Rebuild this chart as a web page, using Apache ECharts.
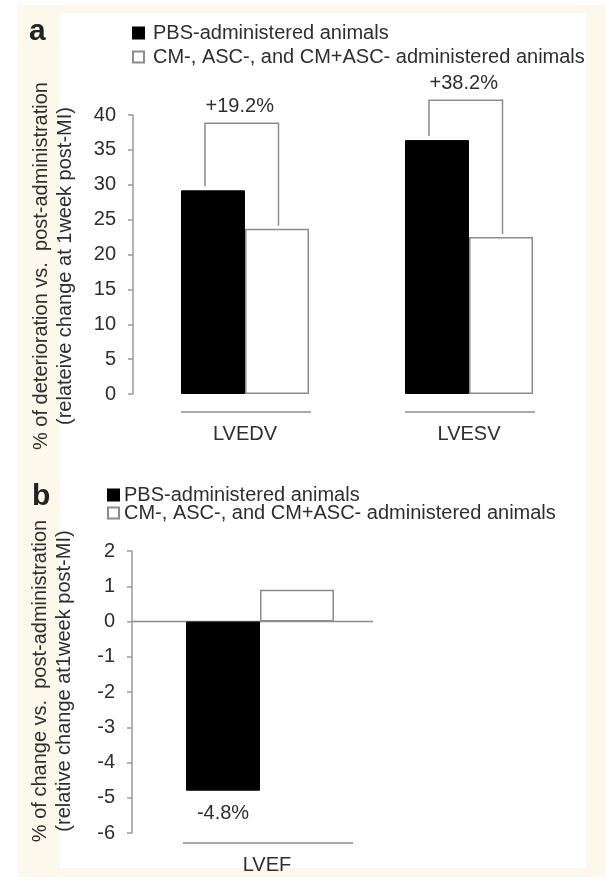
<!DOCTYPE html>
<html><head><meta charset="utf-8">
<script src="https://cdn.jsdelivr.net/npm/echarts@6/dist/echarts.min.js"></script>
<style>html,body{margin:0;padding:0;background:#fff}#c{width:606px;height:883px}</style>
</head><body><div id="c"></div>
<script>
// ---- data ----
const seriesNames = ['PBS-administered animals', 'CM-, ASC-, and CM+ASC- administered animals'];
const categoriesA = ['LVEDV', 'LVESV'];
const pbsA = [29.2, 36.4];
const treatedA = [23.7, 22.5];
const bracketTopA = [38.8, 42.1];
const diffLabelsA = ['+19.2%', '+38.2%'];
const yMinA = 0, yMaxA = 40, yStepA = 5;

const categoriesB = ['LVEF'];
const pbsB = [-4.8];
const treatedB = [0.9];
const valueLabelsB = ['-4.8%'];
const yMinB = -6, yMaxB = 2, yStepB = 1;

const titleA = '% of deterioration vs.  post-administration\n(relateive change at 1week post-MI)';
const titleB = '% of change vs.  post-administration\n(relative change at1week post-MI)';

// ---- styles ----
const FONT = '"Liberation Sans", Arial, sans-serif';
const TXT = '#2e2e2e';
const GRAY = '#9a9a9a';
const BAR_W_A = 64, BAR_W_B = 74;

const chart = echarts.init(document.getElementById('c'), null, {renderer: 'canvas'});

const yAxisCommon = {
  type: 'value',
  axisLine: {show: true, lineStyle: {color: GRAY, width: 1.5}},
  axisTick: {show: true, inside: false, length: 5, lineStyle: {color: GRAY, width: 1.5}},
  splitLine: {show: false},
  axisLabel: {fontSize: 20, color: TXT, fontFamily: FONT, margin: 17},
  nameLocation: 'middle',
  nameRotate: 90,
  nameGap: 56
};

const option = {
  backgroundColor: '#fff',
  animation: false,
  textStyle: {fontFamily: FONT},
  graphic: [
    {type: 'rect', z: -10, silent: true, shape: {x: 18, y: 5, width: 588, height: 872}, style: {fill: '#fdf8ec'}},
    {type: 'rect', z: -9, silent: true, shape: {x: 60, y: 13, width: 526, height: 855}, style: {fill: '#ffffff'}},
    {type: 'text', z: 10, style: {text: 'a', x: 29, y: 32, verticalAlign: 'middle', font: 'bold 30px ' + FONT, fill: '#222'}},
    {type: 'text', z: 10, style: {text: 'b', x: 32, y: 497, verticalAlign: 'middle', font: 'bold 30px ' + FONT, fill: '#222'}}
  ],
  legend: [
    {
      data: seriesNames, orient: 'vertical', left: 132, top: 23, icon: 'rect', padding: 0,
      itemWidth: 11, itemHeight: 11, itemGap: 4,
      textStyle: {fontSize: 20, color: TXT, fontFamily: FONT, padding: [0, 0, 0, 4]},
      selectedMode: false
    },
    {
      data: seriesNames, orient: 'vertical', left: 107, top: 485, icon: 'rect', padding: 0,
      itemWidth: 11, itemHeight: 11, itemGap: -2,
      textStyle: {fontSize: 20, color: TXT, fontFamily: FONT},
      selectedMode: false
    }
  ],
  grid: [
    {left: 133, top: 115, width: 448, height: 279},
    {left: 132, top: 551, width: 256, height: 282}
  ],
  xAxis: [
    {
      type: 'category', gridIndex: 0, data: categoriesA,
      axisLine: {show: false}, axisTick: {show: false},
      axisLabel: {fontSize: 20, color: TXT, fontFamily: FONT, margin: 30}
    },
    {
      type: 'category', gridIndex: 1, data: categoriesB,
      axisLine: {show: false, onZero: false}, axisTick: {show: false},
      axisLabel: {fontSize: 20, color: TXT, fontFamily: FONT, margin: 22, padding: [0, 0, 0, 14]}
    }
  ],
  yAxis: [
    Object.assign({}, yAxisCommon, {
      gridIndex: 0, min: yMinA, max: yMaxA, interval: yStepA,
      name: titleA,
      nameTextStyle: {fontSize: 20, color: TXT, fontFamily: FONT, lineHeight: 24, padding: [0, 23, 0, 0]}
    }),
    Object.assign({}, yAxisCommon, {
      gridIndex: 1, min: yMinB, max: yMaxB, interval: yStepB,
      name: titleB,
      nameTextStyle: {fontSize: 20, color: TXT, fontFamily: FONT, lineHeight: 24, padding: [0, 0, 0, 22]}
    })
  ],
  series: [
    {
      name: seriesNames[0], type: 'bar', xAxisIndex: 0, yAxisIndex: 0,
      data: pbsA, barWidth: BAR_W_A, barGap: '0%',
      itemStyle: {color: '#000', borderColor: '#000', borderWidth: 1}
    },
    {
      name: seriesNames[1], type: 'bar', xAxisIndex: 0, yAxisIndex: 0,
      data: treatedA, barWidth: BAR_W_A, barGap: '0%',
      itemStyle: {color: '#fff', borderColor: '#8c8c8c', borderWidth: 1.5}
    },
    {
      name: seriesNames[0], type: 'bar', xAxisIndex: 1, yAxisIndex: 1,
      data: pbsB, barWidth: BAR_W_B, barGap: '0%',
      itemStyle: {color: '#000', borderColor: '#000', borderWidth: 1},
      label: {
        show: true, position: 'bottom', distance: 13,
        fontSize: 20, color: TXT, fontFamily: FONT,
        formatter: function (p) { return valueLabelsB[p.dataIndex]; }
      }
    },
    {
      name: seriesNames[1], type: 'bar', xAxisIndex: 1, yAxisIndex: 1,
      data: treatedB, barWidth: BAR_W_B, barGap: '0%',
      itemStyle: {color: '#fff', borderColor: '#8c8c8c', borderWidth: 1.5}
    },
    // brackets with difference labels (panel a)
    {
      type: 'custom', xAxisIndex: 0, yAxisIndex: 0, clip: false, silent: true,
      encode: {x: 0, y: 3},
      data: categoriesA.map(function (c, i) { return [i, pbsA[i], treatedA[i], bracketTopA[i]]; }),
      renderItem: function (params, api) {
        const i = api.value(0);
        const top = api.coord([i, api.value(3)]);
        const pb = api.coord([i, api.value(1)]);
        const tw = api.coord([i, api.value(2)]);
        const lx = top[0] - BAR_W_A / 2 - 8;
        const rx = top[0] + BAR_W_A / 2 + 1.5;
        return {
          type: 'group',
          children: [
            {type: 'polyline', shape: {points: [[lx, pb[1] - 4], [lx, top[1]], [rx, top[1]], [rx, tw[1] - 3]]},
             style: {stroke: '#8c8c8c', lineWidth: 1.5, fill: null}},
            {type: 'text', style: {text: diffLabelsA[params.dataIndex], x: (lx + rx) / 2 - 2, y: top[1] - 17,
             align: 'center', verticalAlign: 'middle', font: '20px ' + FONT, fill: TXT}}
          ]
        };
      }
    },
    // category underlines (panel a)
    {
      type: 'custom', xAxisIndex: 0, yAxisIndex: 0, clip: false, silent: true,
      encode: {x: 0, y: 1},
      data: categoriesA.map(function (c, i) { return [i, yMinA]; }),
      renderItem: function (params, api) {
        const p = api.coord([api.value(0), api.value(1)]);
        return {type: 'line', shape: {x1: p[0] - BAR_W_A, y1: p[1] + 18, x2: p[0] + BAR_W_A + 2, y2: p[1] + 18},
                style: {stroke: '#8c8c8c', lineWidth: 1.5}};
      }
    },
    // zero line and category underline (panel b)
    {
      type: 'custom', xAxisIndex: 1, yAxisIndex: 1, clip: false, silent: true,
      encode: {x: 0, y: 1},
      data: categoriesB.map(function (c, i) { return [i, 0]; }),
      renderItem: function (params, api) {
        const p = api.coord([api.value(0), api.value(1)]);
        const b = api.coord([api.value(0), yMinB]);
        return {
          type: 'group',
          children: [
            {type: 'line', shape: {x1: params.coordSys.x, y1: p[1], x2: p[0] + 113, y2: p[1]},
             style: {stroke: '#8c8c8c', lineWidth: 1.5}},
            {type: 'line', shape: {x1: p[0] - 77, y1: b[1] + 10, x2: p[0] + 93, y2: b[1] + 10},
             style: {stroke: '#8c8c8c', lineWidth: 1.5}}
          ]
        };
      }
    }
  ]
};
chart.setOption(option);
</script></body></html>
